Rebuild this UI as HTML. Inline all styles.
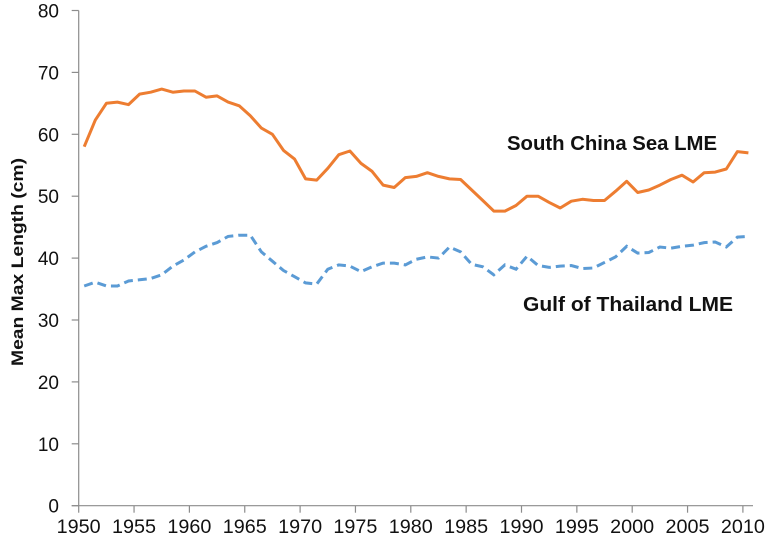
<!DOCTYPE html>
<html><head><meta charset="utf-8"><style>
body{margin:0;background:#fff;}
svg{display:block;font-family:"Liberation Sans",sans-serif;}
</style></head><body>
<svg id="chart" width="774" height="544">
<g id="axes"></g><g id="series"></g>
<text x="612" y="150" font-size="20" font-weight="bold" text-anchor="middle" fill="#111" textLength="210" lengthAdjust="spacingAndGlyphs">South China Sea LME</text>
<text x="628" y="311" font-size="20" font-weight="bold" text-anchor="middle" fill="#111" textLength="210" lengthAdjust="spacingAndGlyphs">Gulf of Thailand LME</text>
<text transform="translate(23,262) rotate(-90)" font-size="17" font-weight="bold" text-anchor="middle" fill="#111" textLength="208" lengthAdjust="spacingAndGlyphs">Mean Max Length (cm)</text>
</svg>
<script>
const years = Array.from({length:61},(_,i)=>1950+i);
const southChinaSea = [58,62.3,65,65.2,64.8,66.5,66.8,67.3,66.8,67,67,66,66.2,65.2,64.6,63,61,60,57.4,56,52.8,52.6,54.5,56.7,57.3,55.3,54,51.8,51.4,53,53.2,53.8,53.2,52.8,52.7,51,49.3,47.6,47.6,48.5,50,50,49,48.1,49.2,49.5,49.3,49.3,50.8,52.4,50.6,51,51.8,52.7,53.4,52.3,53.8,53.9,54.4,57.2,57];
const gulfOfThailand = [35.5,36.1,35.5,35.5,36.3,36.5,36.7,37.3,38.7,39.7,41,41.9,42.5,43.5,43.7,43.7,41,39.5,38,37,36,35.8,38.2,38.9,38.7,37.8,38.6,39.2,39.2,38.9,39.8,40.2,40,41.8,41,39,38.6,37.3,38.9,38.2,40.3,38.8,38.5,38.7,38.8,38.3,38.4,39.3,40.2,41.9,40.8,40.9,41.8,41.6,41.9,42.1,42.5,42.6,41.8,43.4,43.5];
const yTicks = [0,10,20,30,40,50,60,70,80];
const xTicks = [1950,1955,1960,1965,1970,1975,1980,1985,1990,1995,2000,2005,2010];

const NS="http://www.w3.org/2000/svg";
const X0=78.7, PX_PER_YEAR=11.07, Y0=505.7, PX_PER_UNIT=6.19;
const xs = y => X0+(y-1950)*PX_PER_YEAR;
const xc = y => xs(y+0.5);
const ys = v => Y0-v*PX_PER_UNIT;
const axes=document.getElementById('axes'), ser=document.getElementById('series');
function mk(tag,attrs,parent){const e=document.createElementNS(NS,tag);for(const k in attrs)e.setAttribute(k,attrs[k]);parent.appendChild(e);return e;}

const yl=mk('line',{x1:X0,y1:ys(80),x2:X0,y2:Y0,stroke:'#8c8c8c','stroke-width':1.2},axes);


const xl=mk('line',{x1:X0-7,y1:Y0,x2:753,y2:Y0,stroke:'#8c8c8c','stroke-width':1.2},axes);


yTicks.forEach(v=>{
  mk('line',{x1:X0-7,y1:ys(v),x2:X0,y2:ys(v),stroke:'#8c8c8c','stroke-width':1.2},axes);
  const t=mk('text',{x:59,y:ys(v)+7,'font-size':19,'text-anchor':'end',fill:'#111'},axes);
  t.textContent=v;
  
  
});
xTicks.forEach(y=>{
  mk('line',{x1:xs(y),y1:Y0,x2:xs(y),y2:Y0+7,stroke:'#8c8c8c','stroke-width':1.2},axes);
  const t=mk('text',{x:xs(y),y:533,'font-size':19,'text-anchor':'middle',fill:'#111',textLength:44,lengthAdjust:'spacingAndGlyphs'},axes);
  t.textContent=y;
  
  
});
function pts(arr){return arr.map((v,i)=>xc(years[i]).toFixed(1)+','+ys(v).toFixed(1)).join(' ');}
const l1=mk('polyline',{points:pts(southChinaSea),fill:'none',stroke:'#ED7D31','stroke-width':3,'stroke-linejoin':'round'},ser);


const l2=mk('polyline',{points:pts(gulfOfThailand),fill:'none',stroke:'#5B9BD5','stroke-width':3,'stroke-dasharray':'9,5'},ser);


</script>
</body></html>
